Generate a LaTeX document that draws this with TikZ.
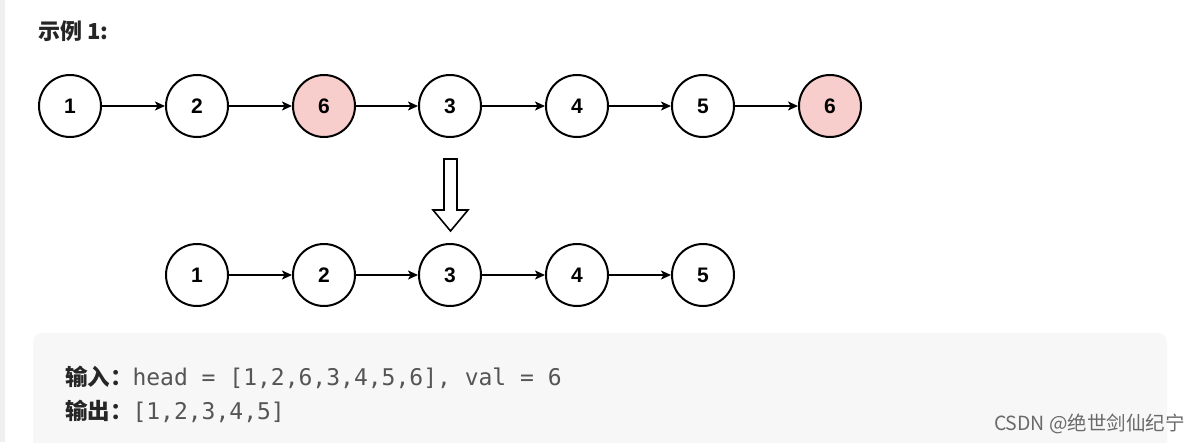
\documentclass[tikz,border=0pt]{standalone}
\usepackage{fontspec}
\setmainfont{Liberation Sans}
\newfontfamily\cjkfont{Noto Sans CJK SC}
\newfontfamily\monofont{DejaVu Sans Mono}
\usetikzlibrary{arrows.meta}
\definecolor{pinkfill}{HTML}{F8CECC}
\definecolor{boxgrey}{HTML}{F7F7F7}
\definecolor{stripgrey}{HTML}{EFEFEF}
\definecolor{darktext}{HTML}{262626}
\definecolor{codetext}{HTML}{555555}
\definecolor{wmtext}{HTML}{6A6A6A}
\tikzset{
  lnode/.style={circle, draw=black, line width=2pt, fill=white, minimum size=62pt, inner sep=0pt,
    font=\fontsize{21}{25}\selectfont\bfseries},
  rnode/.style={lnode, fill=pinkfill},
  link/.style={line width=1.6pt, -{Stealth[length=10pt,width=9pt,inset=2.5pt]}},
  bigarrow/.style={draw=black, line width=1.6pt, fill=white, line join=miter},
  txt/.style={anchor=base west, inner sep=0pt, outer sep=0pt}
}
\begin{document}
\begin{tikzpicture}[x=1pt,y=-1pt]
\useasboundingbox (0,0) rectangle (1199,442);
\clip (0,0) rectangle (1199,442);
\fill[white] (0,0) rectangle (1199,442);
\fill[stripgrey] (0,0) rectangle (5,442);
\fill[boxgrey, rounded corners=9pt] (33,333) rectangle (1167,470);

\node[txt, text=darktext] (title) at (38,39) {\cjkfont\fontsize{22}{26}\selectfont\bfseries 示例 1:};

% row 1
\node[lnode] (a1) at (70,106) {1};
\node[lnode] (a2) at (197,106) {2};
\node[rnode] (a3) at (324,106) {6};
\node[lnode] (a4) at (450,106) {3};
\node[lnode] (a5) at (577,106) {4};
\node[lnode] (a6) at (703,106) {5};
\node[rnode] (a7) at (830,106) {6};
\foreach \i/\j in {a1/a2,a2/a3,a3/a4,a4/a5,a5/a6,a6/a7} \draw[link] (\i) -- (\j);

% hollow arrow
\draw[bigarrow] (444,159) -- (457,159) -- (457,210) -- (468,210) -- (450.5,231) -- (433,210) -- (444,210) -- cycle;

% row 2
\node[lnode] (b1) at (197,275) {1};
\node[lnode] (b2) at (324,275) {2};
\node[lnode] (b3) at (450,275) {3};
\node[lnode] (b4) at (577,275) {4};
\node[lnode] (b5) at (703,275) {5};
\foreach \i/\j in {b1/b2,b2/b3,b3/b4,b4/b5} \draw[link] (\i) -- (\j);

% example text
\node[txt] (in) at (65,385) {{\cjkfont\fontsize{22.5}{26}\selectfont\bfseries\color{darktext}输入：}{\monofont\fontsize{23}{26}\selectfont\color{codetext}head = [1,2,6,3,4,5,6], val = 6}};
\node[txt] (out) at (65,419) {{\cjkfont\fontsize{22.5}{26}\selectfont\bfseries\color{darktext}输出：}{\monofont\fontsize{23}{26}\selectfont\color{codetext}[1,2,3,4,5]}};

% watermark
\node[txt, text=wmtext] (wm) at (994,430) {\cjkfont\fontsize{19.5}{22}\selectfont CSDN @绝世剑仙纪宁};
\end{tikzpicture}
\end{document}
